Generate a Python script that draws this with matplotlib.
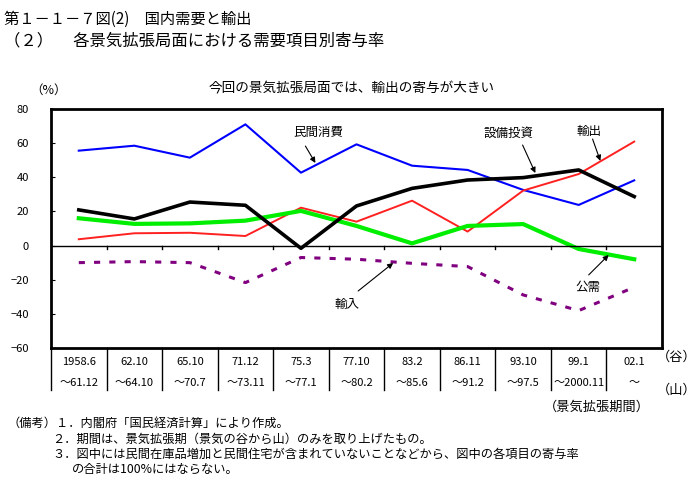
import matplotlib
matplotlib.use('Agg')
import matplotlib.pyplot as plt
import numpy as np

plt.rcParams['font.family'] = ['Noto Sans CJK JP', 'DejaVu Sans']

# data
periods_start = ['1958.6', '62.10', '65.10', '71.12', '75.3', '77.10',
                 '83.2', '86.11', '93.10', '99.1', '02.1']
periods_end = ['～61.12', '～64.10', '～70.7', '～73.11', '～77.1', '～80.2',
               '～85.6', '～91.2', '～97.5', '～2000.11', '～']
consumption = [55.6, 58.5, 51.5, 71.0, 42.7, 59.3, 46.8, 44.3, 32.6, 23.8, 38.2]
investment = [20.9, 15.6, 25.5, 23.6, -1.6, 23.2, 33.5, 38.4, 39.8, 44.3, 28.7]
exports = [3.7, 7.2, 7.5, 5.6, 22.2, 14.0, 26.3, 8.2, 32.2, 41.9, 60.9]
public = [16.0, 12.7, 13.0, 14.6, 20.3, 11.5, 1.3, 11.5, 12.6, -2.0, -8.0]
imports = [-10.0, -9.4, -10.0, -21.7, -7.0, -8.0, -10.4, -12.3, -28.9, -38.1, -24.4]

W, H = 698, 487
fig = plt.figure(figsize=(W / 100, H / 100), dpi=100)
ax = fig.add_axes([51 / W, 1 - 348 / H, (662 - 51) / W, (348 - 109) / H])

x = np.arange(len(periods_start))
ax.plot(x, consumption, color='#0000FF', lw=1.5)
ax.plot(x, exports, color='#FF2020', lw=1.4)
ax.plot(x, public, color='#00EE00', lw=3.0)
ax.plot(x, investment, color='black', lw=2.6)
ax.plot(x, imports, color='#800080', lw=2.2, dashes=(2, 3))

ax.set_xlim(-0.5, len(x) - 0.5)
ax.set_ylim(-60, 80)
ax.set_yticks(np.arange(-60, 81, 20))
ax.tick_params(axis='y', direction='in', length=3, pad=16, labelsize=8)
ax.set_xticks([])
for s in ax.spines.values():
    s.set_linewidth(2)
ax.axhline(0, color='black', lw=1)

# small ticks on the zero line and the period table below the axis
tr = ax.get_xaxis_transform()
for k in range(len(x)):
    d = k - 0.5
    if k > 0:
        ax.plot([d, d], [0, -2], color='black', lw=1)
    ax.plot([d, d], [0, -0.176], color='black', lw=1, transform=tr, clip_on=False)
for i in range(len(x)):
    ax.text(i, -0.058, periods_start[i], transform=tr, ha='center', va='center', fontsize=8)
    ax.text(i, -0.146, periods_end[i], transform=tr, ha='center', va='center', fontsize=8)

# labels with arrows
arrow = dict(arrowstyle='-|>', color='black', lw=0.8, mutation_scale=8, shrinkA=0, shrinkB=0)
ax.text(4.31, 66.5, '民間消費', ha='center', va='center', fontsize=9)
ax.annotate('', xy=(4.26, 48.4), xytext=(4.08, 58.3), arrowprops=arrow)
ax.text(7.73, 65.9, '設備投資', ha='center', va='center', fontsize=9)
ax.annotate('', xy=(8.22, 42.5), xytext=(7.99, 58.9), arrowprops=arrow)
ax.text(9.19, 67.1, '輸出', ha='center', va='center', fontsize=9)
ax.annotate('', xy=(9.39, 49.6), xytext=(9.25, 62.4), arrowprops=arrow)
ax.text(4.83, -34.2, '輸入', ha='center', va='center', fontsize=9)
ax.annotate('', xy=(5.66, -10.2), xytext=(5.03, -26.6), arrowprops=arrow)
ax.text(9.16, -24.8, '公需', ha='center', va='center', fontsize=9)
ax.annotate('', xy=(9.54, -5.5), xytext=(9.18, -17.2), arrowprops=arrow)


def ftext(px, py, s, **kw):
    fig.text(px / W, 1 - py / H, s, va='center', **kw)


ftext(4, 19, '第１－１－７図(2)　国内需要と輸出', fontsize=11)
ftext(4, 41, '（２）　 各景気拡張局面における需要項目別寄与率', fontsize=11.8)
ftext(352, 88, '今回の景気拡張局面では、輸出の寄与が大きい', fontsize=9.8, ha='center')
ftext(49, 90, '（%）', fontsize=9, ha='center')
ftext(677, 357, '（谷）', fontsize=9.5, ha='center')
ftext(677, 390, '（山）', fontsize=9.5, ha='center')
ftext(597, 407, '（景気拡張期間）', fontsize=9.5, ha='center')
ftext(8, 423, '（備考）１．内閣府「国民経済計算」により作成。', fontsize=8.8)
ftext(52, 439, '２．期間は、景気拡張期（景気の谷から山）のみを取り上げたもの。', fontsize=8.8)
ftext(52, 454, '３．図中には民間在庫品増加と民間住宅が含まれていないことなどから、図中の各項目の寄与率', fontsize=8.8)
ftext(72, 469, 'の合計は100%にはならない。', fontsize=8.8)

fig.savefig('out.png', dpi=100)
